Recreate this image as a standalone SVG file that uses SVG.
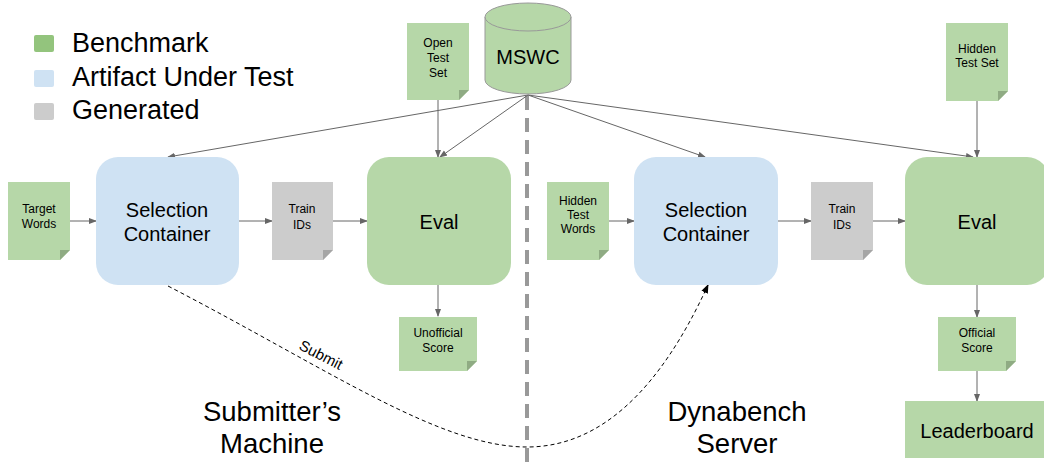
<svg xmlns="http://www.w3.org/2000/svg" width="1044" height="465" viewBox="0 0 1044 465">
<defs>
<style>
text{font-family:"Liberation Sans",Arial,sans-serif;fill:#000}
.g{fill:#b6d7a8}
.b{fill:#cfe2f3}
.y{fill:#cccccc}
.fg{fill:#8fab83}
.fy{fill:#a5a5a5}
.c{stroke:#666;stroke-width:1;fill:none;marker-end:url(#ah)}
.s{font-size:12px;text-anchor:middle}
.m{font-size:20px;text-anchor:middle}
.l{font-size:27px}
.r{font-size:27.5px;text-anchor:middle}
</style>
<marker id="ah" markerWidth="8" markerHeight="8" refX="7" refY="4" orient="auto" markerUnits="userSpaceOnUse">
<path d="M0,1 L8,4 L0,7 Z" fill="#666"/>
</marker>
<marker id="ahk" markerWidth="9" markerHeight="9" refX="8" refY="4.5" orient="auto" markerUnits="userSpaceOnUse">
<path d="M0,1 L9,4.5 L0,8 Z" fill="#000"/>
</marker>
</defs>
<rect width="1044" height="465" fill="#fff"/>

<g id="legend">
<rect x="34" y="35" width="20" height="17" rx="2" fill="#93c47d"/>
<text class="l" x="72" y="52">Benchmark</text>
<rect x="34" y="70" width="20" height="17" rx="2" fill="#cfe2f3"/>
<text class="l" x="72" y="86">Artifact Under Test</text>
<rect x="34" y="103" width="20" height="17" rx="2" fill="#cccccc"/>
<text class="l" x="72" y="119">Generated</text>
</g>

<g id="divider">
<line x1="527" y1="96" x2="527" y2="465" stroke="#999" stroke-width="4" stroke-dasharray="14 8"/>
</g>

<g id="connectors">
<line class="c" x1="528" y1="95" x2="168" y2="157"/>
<line class="c" x1="528" y1="95" x2="440" y2="157"/>
<line class="c" x1="528" y1="95" x2="705" y2="157"/>
<line class="c" x1="528" y1="95" x2="973" y2="157"/>
<line class="c" x1="438" y1="100" x2="438" y2="157"/>
<line class="c" x1="977" y1="101" x2="977" y2="157"/>
<line class="c" x1="70" y1="221" x2="96" y2="221"/>
<line class="c" x1="239" y1="221" x2="272" y2="221"/>
<line class="c" x1="333" y1="221" x2="367" y2="221"/>
<line class="c" x1="609" y1="221" x2="634" y2="221"/>
<line class="c" x1="778" y1="221" x2="811" y2="221"/>
<line class="c" x1="873" y1="221" x2="905" y2="221"/>
<line class="c" x1="438" y1="285" x2="438" y2="316"/>
<line class="c" x1="977" y1="285" x2="977" y2="317"/>
<line class="c" x1="977" y1="371" x2="977" y2="401"/>
<path d="M168,286 C330,370 440,447 527,447 C600,447 660,390 708,285" fill="none" stroke="#000" stroke-width="1" stroke-dasharray="4 3" marker-end="url(#ahk)"/>
<text x="321" y="360" font-size="15" text-anchor="middle" transform="rotate(27 321 355)">Submit</text>
</g>

<g id="mswc">
<path d="M485,17 L485,80 A43,14 0 0 0 571,80 L571,17" class="g" stroke="#999" stroke-width="1"/>
<ellipse cx="528" cy="17" rx="43" ry="14" class="g" stroke="#999" stroke-width="1"/>
<text x="528" y="64" font-size="20" text-anchor="middle">MSWC</text>
</g>

<g id="open-test-set">
<path d="M407,23 H469 V90 L459,100 H407 Z" class="g"/>
<path d="M469,90 L459,100 L459,90 Z" class="fg"/>
<text class="s" x="438" y="47">Open</text>
<text class="s" x="438" y="62">Test</text>
<text class="s" x="438" y="77">Set</text>
</g>

<g id="target-words">
<path d="M8,182 H70 V250 L60,260 H8 Z" class="g"/>
<path d="M70,250 L60,260 L60,250 Z" class="fg"/>
<text class="s" x="39" y="213">Target</text>
<text class="s" x="39" y="228">Words</text>
</g>

<g id="selection-1">
<rect x="96" y="157" width="143" height="128" rx="22" class="b"/>
<text class="m" x="167" y="217">Selection</text>
<text class="m" x="167" y="241">Container</text>
</g>

<g id="train-ids-1">
<path d="M272,182 H333 V250 L323,260 H272 Z" class="y"/>
<path d="M333,250 L323,260 L323,250 Z" class="fy"/>
<text class="s" x="302" y="213">Train</text>
<text class="s" x="302" y="229">IDs</text>
</g>

<g id="eval-1">
<rect x="367" y="157" width="144" height="128" rx="22" class="g"/>
<text class="m" x="439" y="229">Eval</text>
</g>

<g id="unofficial-score">
<path d="M399,317 H477 V361 L467,371 H399 Z" class="g"/>
<path d="M477,361 L467,371 L467,361 Z" class="fg"/>
<text class="s" x="438" y="337">Unofficial</text>
<text class="s" x="438" y="352">Score</text>
</g>

<g id="hidden-test-words">
<path d="M547,182 H609 V250 L599,260 H547 Z" class="g"/>
<path d="M609,250 L599,260 L599,250 Z" class="fg"/>
<text class="s" x="578" y="205">Hidden</text>
<text class="s" x="578" y="219">Test</text>
<text class="s" x="578" y="233">Words</text>
</g>

<g id="selection-2">
<rect x="634" y="157" width="144" height="128" rx="22" class="b"/>
<text class="m" x="706" y="217">Selection</text>
<text class="m" x="706" y="241">Container</text>
</g>

<g id="train-ids-2">
<path d="M811,182 H873 V250 L863,260 H811 Z" class="y"/>
<path d="M873,250 L863,260 L863,250 Z" class="fy"/>
<text class="s" x="842" y="213">Train</text>
<text class="s" x="842" y="229">IDs</text>
</g>

<g id="hidden-test-set">
<path d="M946,23 H1008 V91 L998,101 H946 Z" class="g"/>
<path d="M1008,91 L998,101 L998,91 Z" class="fg"/>
<text class="s" x="977" y="53">Hidden</text>
<text class="s" x="977" y="67">Test Set</text>
</g>

<g id="eval-2">
<rect x="905" y="157" width="144" height="128" rx="22" class="g"/>
<text class="m" x="977" y="229">Eval</text>
</g>

<g id="official-score">
<path d="M938,317 H1016 V361 L1006,371 H938 Z" class="g"/>
<path d="M1016,361 L1006,371 L1006,361 Z" class="fg"/>
<text class="s" x="977" y="337">Official</text>
<text class="s" x="977" y="352">Score</text>
</g>

<g id="leaderboard">
<rect x="905" y="401" width="144" height="57" class="g"/>
<text class="m" x="977" y="438">Leaderboard</text>
</g>

<g id="region-labels">
<text class="r" x="272" y="421">Submitter’s</text>
<text class="r" x="272" y="453">Machine</text>
<text class="r" x="737" y="421">Dynabench</text>
<text class="r" x="737" y="453">Server</text>
</g>
</svg>
